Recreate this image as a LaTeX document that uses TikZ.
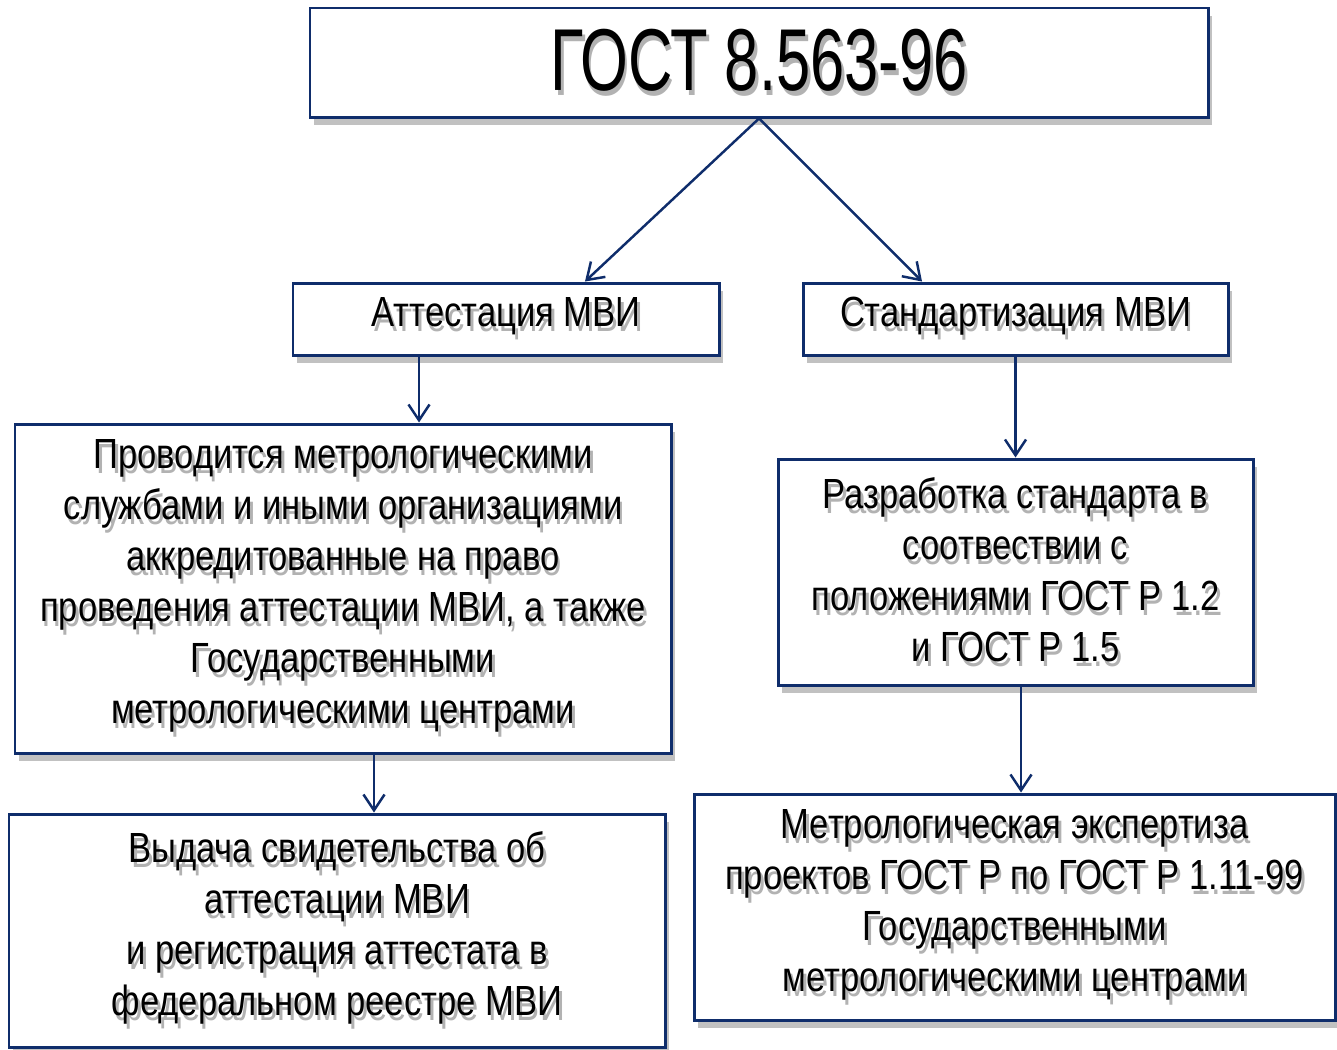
\documentclass[tikz,border=0pt]{standalone}
\usepackage{fontspec}
\setmainfont{Liberation Sans}[FakeStretch=0.82]
\newfontfamily\titlefont{Liberation Sans}[FakeStretch=0.70]
\usepackage{tikz}
\usetikzlibrary{arrows.meta,shadows}
\definecolor{navy}{HTML}{0F2D6B}
\newcommand\shd[1]{\leavevmode\rlap{\kern1.6pt\raisebox{-2.8pt}{\textcolor{black!30}{#1}}}#1}

\begin{document}
\begin{tikzpicture}[
      x=0.02cm, y=-0.02cm,  % one unit is one pixel of the layout
      box/.style={draw=navy, line width=1.7pt, fill=white, align=center, inner sep=0pt,
                  drop shadow={shadow xshift=0.4ex, shadow yshift=-0.9ex, opacity=0.35, fill=black!70}},
      txt/.style={font=\fontsize{24}{29}\selectfont},
      link/.style={draw=navy, line width=1.4pt, -{Straight Barb[length=9pt,width=12pt,line width=1.4pt]}}
    ]
    \useasboundingbox (0,0) rectangle (1337,1049);
        % top level
        \node[box, minimum width=898*0.02cm, minimum height=109*0.02cm,
              font=\titlefont\fontsize{50}{52}\selectfont] (gost) at (759,62.5) {\shd{ГОСТ 8.563-96}};
        % second level
        \node[box, txt, minimum width=426*0.02cm, minimum height=72*0.02cm] (att) at (506,319) {\shd{Аттестация МВИ}};
        \node[box, txt, minimum width=425*0.02cm, minimum height=72*0.02cm] (std) at (1015.5,319) {\shd{Стандартизация МВИ}};
        % left branch
        \node[box, txt, minimum width=656*0.02cm, minimum height=329*0.02cm] (prov) at (343,588.5)
            {\shd{Проводится метрологическими}\\\shd{службами и иными организациями}\\\shd{аккредитованные на право}\\
             \shd{проведения аттестации МВИ, а также}\\\shd{Государственными}\\\shd{метрологическими центрами}};
        \node[box, txt, minimum width=656*0.02cm, minimum height=233*0.02cm] (vyd) at (337,930.5)
            {\shd{Выдача свидетельства об}\\\shd{аттестации МВИ}\\\shd{и регистрация аттестата в}\\\shd{федеральном реестре МВИ}};
        % right branch
        \node[box, txt, minimum width=475*0.02cm, minimum height=226*0.02cm] (razr) at (1015.5,572)
            {\shd{Разработка стандарта в}\\\shd{соотвествии с}\\\shd{положениями ГОСТ Р 1.2}\\\shd{и ГОСТ Р 1.5}};
        \node[box, txt, minimum width=641*0.02cm, minimum height=226*0.02cm] (expt) at (1014.5,907)
            {\shd{Метрологическая экспертиза}\\\shd{проектов ГОСТ Р по ГОСТ Р 1.11-99}\\\shd{Государственными}\\\shd{метрологическими центрами}};
        % connectors
        \draw[link] (gost.south) -- ([xshift=1.58cm]att.north);
        \draw[link] (gost.south) -- ([xshift=-1.87cm]std.north);
        \draw[link] ([xshift=-1.74cm]att.south) -- ([xshift=-1.74cm]att.south |- prov.north);
        \draw[link] (std.south) -- (std.south |- razr.north);
        \draw[link] ([xshift=0.62cm]prov.south) -- ([xshift=0.62cm]prov.south |- vyd.north);
        \draw[link] ([xshift=0.11cm]razr.south) -- ([xshift=0.11cm]razr.south |- expt.north);
    \end{tikzpicture}
\end{document}
